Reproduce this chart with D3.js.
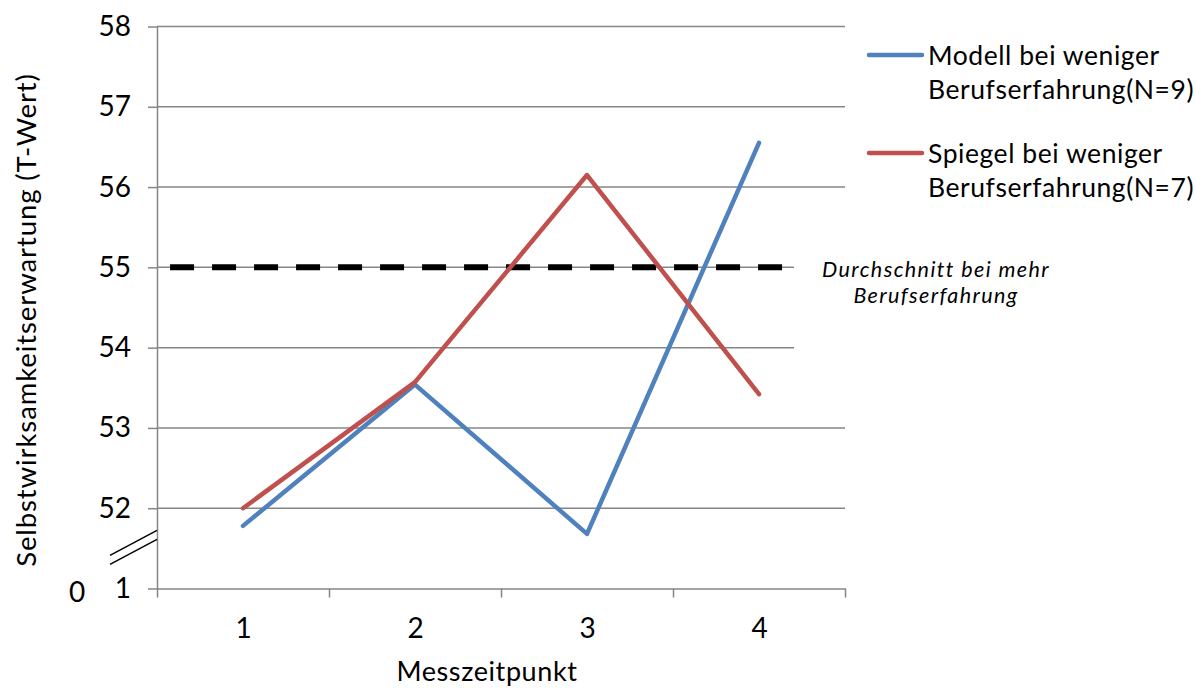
<!DOCTYPE html>
<html>
<head>
<meta charset="utf-8">
<script src="https://cdn.jsdelivr.net/npm/d3@7/dist/d3.min.js"></script>
<style>
  html, body { margin: 0; padding: 0; background: #fff; }
  svg { display: block; font-family: Lato, "Open Sans", sans-serif; }
</style>
</head>
<body>
<svg id="chart" width="1196" height="688"></svg>
<script>
// Measurement points on the x axis
const categories = ["1", "2", "3", "4"];

// Self-efficacy T-scores per measurement point
const modellValues = [51.78, 53.54, 51.68, 56.55];
const spiegelValues = [52.0, 53.57, 56.15, 53.42];

// Series names as shown in the legend
const seriesNames = [
  ["Modell bei weniger", "Berufserfahrung(N=9)"],
  ["Spiegel bei weniger", "Berufserfahrung(N=7)"]
];

// Y axis: the bottom tick stands for the broken part of the axis
const yTickValues = [51, 52, 53, 54, 55, 56, 57, 58];
const yTickLabels = ["1", "52", "53", "54", "55", "56", "57", "58"];

// Reference value of the more experienced group, drawn across the plot
const referenceValue = 55;
const referenceSpan = [0.576, 4.135]; // in category units
const referenceLabel = ["Durchschnitt bei mehr", "Berufserfahrung"];

const colors = ["#4F81BD", "#C0504D"];
const gridColor = "#868686";

const svg = d3.select("#chart");

const plot = { left: 157, right: 845, top: 26.5, bottom: 588.5 };

const x = d3.scaleLinear()
  .domain([0.5, categories.length + 0.5])
  .range([plot.left, plot.right]);

const y = d3.scaleLinear()
  .domain([d3.min(yTickValues), d3.max(yTickValues)])
  .range([plot.bottom, plot.top]);

// Horizontal gridlines
svg.append("g")
  .selectAll("line")
  .data(yTickValues.slice(1))
  .join("line")
  .attr("x1", plot.left)
  .attr("x2", plot.right)
  .attr("y1", d => y(d))
  .attr("y2", d => y(d))
  .attr("stroke", gridColor)
  .attr("stroke-width", 1.5);

// Y axis
const yAxis = svg.append("g")
  .attr("transform", `translate(${plot.left},0)`)
  .call(d3.axisLeft(y)
    .tickValues(yTickValues)
    .tickFormat((d, i) => yTickLabels[i])
    .tickSize(9)
    .tickSizeOuter(0)
    .tickPadding(17));
yAxis.select(".domain").attr("stroke", gridColor).attr("stroke-width", 1.5);
yAxis.selectAll(".tick line").attr("stroke", gridColor).attr("stroke-width", 1.5);
yAxis.selectAll(".tick text")
  .attr("font-size", 28)
  .attr("fill", "#000")
  .attr("font-family", "Lato, sans-serif");

// Zero label left of the axis break
svg.append("text")
  .attr("x", 77)
  .attr("y", y(51) + 4)
  .attr("dy", "0.35em")
  .attr("text-anchor", "middle")
  .attr("font-size", 28)
  .text("0");

// X axis: ticks between categories
const xAxis = svg.append("g")
  .attr("transform", `translate(0,${plot.bottom})`)
  .call(d3.axisBottom(x)
    .tickValues(d3.range(0.5, categories.length + 1, 1))
    .tickFormat("")
    .tickSize(9)
    .tickSizeOuter(0));
xAxis.select(".domain").attr("stroke", gridColor).attr("stroke-width", 1.5);
xAxis.selectAll(".tick line").attr("stroke", gridColor).attr("stroke-width", 1.5);

const xLabels = svg.append("g")
  .attr("transform", `translate(0,${plot.bottom})`)
  .call(d3.axisBottom(x)
    .tickValues(categories.map((c, i) => i + 1))
    .tickFormat((d) => categories[d - 1])
    .tickSize(0)
    .tickPadding(30));
xLabels.select(".domain").remove();
xLabels.selectAll(".tick text")
  .attr("font-size", 28)
  .attr("fill", "#000")
  .attr("font-family", "Lato, sans-serif");

// Axis break marks
const breakGroup = svg.append("g").attr("stroke", "#000").attr("stroke-width", 1.5);
[0, 9].forEach(off => {
  breakGroup.append("line")
    .attr("x1", plot.left - 47)
    .attr("y1", y(51.5) + 7 + off)
    .attr("x2", plot.left)
    .attr("y2", y(51.5) - 18 + off);
});

// Reference line
svg.append("line")
  .attr("x1", x(referenceSpan[0]))
  .attr("x2", x(referenceSpan[1]))
  .attr("y1", y(referenceValue))
  .attr("y2", y(referenceValue))
  .attr("stroke", "#000")
  .attr("stroke-width", 6)
  .attr("stroke-dasharray", "24 18");

// Data series
const line = d3.line()
  .x((d, i) => x(i + 1))
  .y(d => y(d));

[modellValues, spiegelValues].forEach((vals, k) => {
  svg.append("path")
    .datum(vals)
    .attr("d", line)
    .attr("fill", "none")
    .attr("stroke", colors[k])
    .attr("stroke-width", 4.5)
    .attr("stroke-linecap", "round")
    .attr("stroke-linejoin", "round");
});

// Text box for the reference line label
svg.append("rect")
  .attr("x", 794)
  .attr("y", 250)
  .attr("width", 290)
  .attr("height", 108)
  .attr("fill", "#fff");

svg.append("g")
  .selectAll("text")
  .data(referenceLabel)
  .join("text")
  .attr("x", 936)
  .attr("y", (d, i) => 277 + i * 26)
  .attr("text-anchor", "middle")
  .attr("font-size", 21.5)
  .attr("letter-spacing", 1.4)
  .attr("font-style", "italic")
  .text(d => d);

// Legend
const legend = svg.append("g");
seriesNames.forEach((lines, k) => {
  const cy = 55 + k * 98;
  legend.append("line")
    .attr("x1", 869).attr("x2", 922)
    .attr("y1", cy).attr("y2", cy)
    .attr("stroke", colors[k])
    .attr("stroke-width", 4.5)
    .attr("stroke-linecap", "round");
  legend.append("text")
    .attr("x", 928)
    .attr("y", cy + 10)
    .attr("font-size", 26.5)
    .attr("letter-spacing", 0.55)
    .selectAll("tspan")
    .data(lines)
    .join("tspan")
    .attr("x", 928)
    .attr("dy", (d, i) => i === 0 ? 0 : 33.5)
    .text(d => d);
});

// Axis titles
svg.append("text")
  .attr("x", 487)
  .attr("y", 681)
  .attr("text-anchor", "middle")
  .attr("font-size", 27)
  .attr("letter-spacing", 0.6)
  .text("Messzeitpunkt");

svg.append("text")
  .attr("transform", "translate(36,320) rotate(-90)")
  .attr("text-anchor", "middle")
  .attr("font-size", 27.5)
  .attr("letter-spacing", 0.9)
  .text("Selbstwirksamkeitserwartung (T-Wert)");
</script>
</body>
</html>
